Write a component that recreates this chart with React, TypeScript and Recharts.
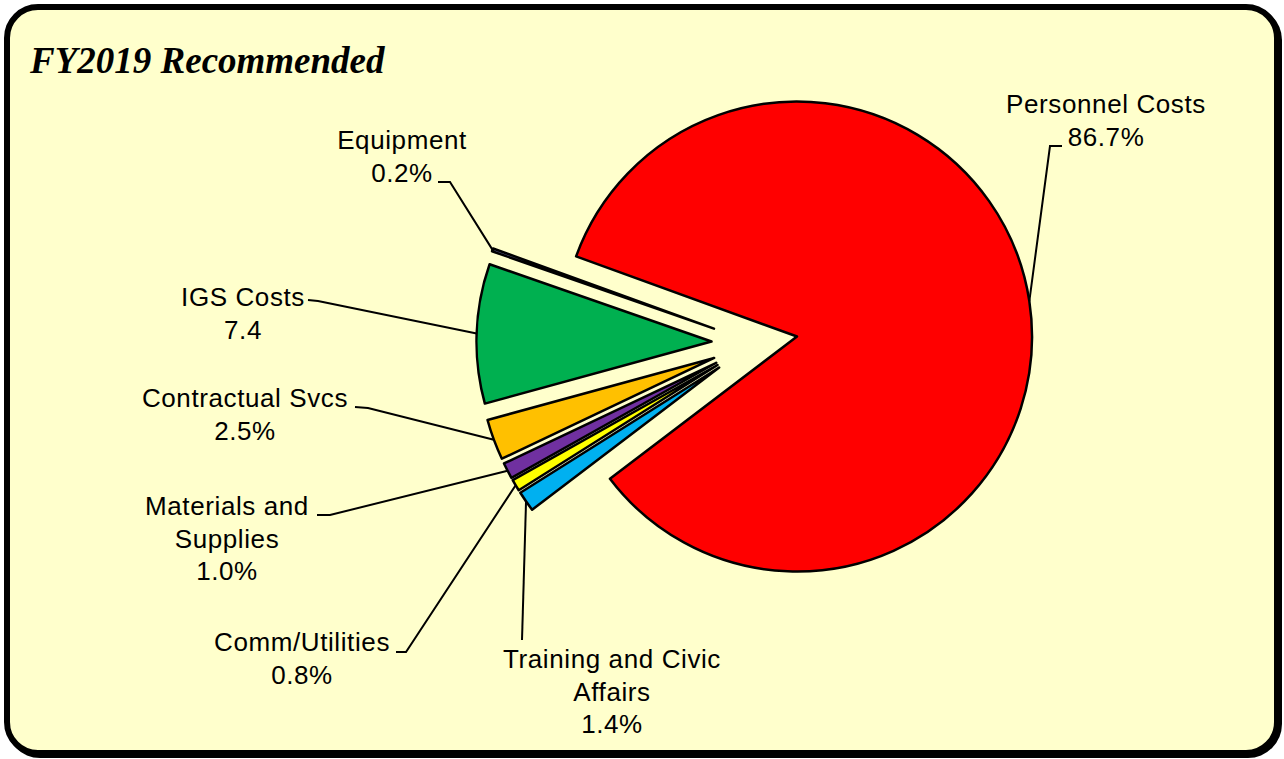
import React from 'react';
import { PieChart, Pie, Sector } from 'recharts';

// slice order follows the picture, counter-clockwise from the red slice
const categories = [
  'Personnel Costs',
  'Equipment',
  'IGS Costs',
  'Contractual Svcs',
  'Materials and\nSupplies',
  'Comm/Utilities',
  'Training and Civic\nAffairs',
];
// slice sizes as drawn
const values = [84.2, 0.2, 9.6, 2.8, 1.1, 0.8, 1.4];
// value text as printed on the labels
const valueLabels = ['86.7%', '0.2%', '7.4', '2.5%', '1.0%', '0.8%', '1.4%'];
const colors = ['#FF0000', '#9999FF', '#00B050', '#FFC000', '#7030A0', '#FFFF00', '#00B0F0'];

// label placement: text centre x, first baseline y, leader elbow and end
const labelLayout = [
  { x: 1106, y: 113, elbow: [1050, 146], end: [1062, 146] },
  { x: 402, y: 149, elbow: [450, 182], end: [438, 182] },
  { x: 243, y: 306, elbow: [318, 301], end: [308, 300] },
  { x: 245, y: 407, elbow: [368, 408], end: [355, 407] },
  { x: 227, y: 515, elbow: [330, 515], end: [317, 515] },
  { x: 302, y: 651, elbow: [406, 652], end: [396, 652] },
  { x: 612, y: 668, elbow: [522, 640], end: [522, 640] },
];

const data = categories.map((name, i) => ({ name, value: values[i] }));

const EXPLODE = 43;
const RAD = Math.PI / 180;
const LINE_H = 32.5;
const font = '"Liberation Sans", Arial, sans-serif';

const renderSlice = (props: any) => {
  const { cx, cy, outerRadius, startAngle, endAngle, index } = props;
  const mid = (startAngle + endAngle) / 2;
  const ox = cx + EXPLODE * Math.cos(mid * RAD);
  const oy = cy - EXPLODE * Math.sin(mid * RAD);
  const ax = ox + outerRadius * Math.cos(mid * RAD);
  const ay = oy - outerRadius * Math.sin(mid * RAD);
  const lay = labelLayout[index];
  const lines = [...categories[index].split('\n'), valueLabels[index]];
  return (
    <g>
      <Sector
        cx={ox}
        cy={oy}
        innerRadius={0}
        outerRadius={outerRadius}
        startAngle={startAngle}
        endAngle={endAngle}
        fill={colors[index]}
        stroke="#000"
        strokeWidth={2.5}
        strokeLinejoin="round"
      />
      <polyline
        points={`${ax},${ay} ${lay.elbow[0]},${lay.elbow[1]} ${lay.end[0]},${lay.end[1]}`}
        fill="none"
        stroke="#000"
        strokeWidth={2}
      />
      <text x={lay.x} y={lay.y} textAnchor="middle" fontFamily={font} fontSize={26} letterSpacing={0.6} fill="#000">
        {lines.map((t, k) => (
          <tspan key={k} x={lay.x} y={lay.y + k * LINE_H}>
            {t}
          </tspan>
        ))}
      </text>
    </g>
  );
};

export default function App() {
  return (
    <div style={{ position: 'absolute', left: 0, top: 0, width: 1284, height: 759 }}>
      <div
        style={{
          position: 'absolute',
          left: 4,
          top: 4,
          width: 1276,
          height: 752,
          boxSizing: 'border-box',
          border: '6px solid #000',
          borderRadius: 34,
          background: '#FFFFCC',
          boxShadow: '2px 2px 0 #000',
        }}
      />
      <svg style={{ position: 'absolute', left: 0, top: 0 }} width={1284} height={100}>
        <text x={30} y={73} fontFamily='"Liberation Serif", "Times New Roman", serif' fontSize={37} fontWeight="bold" fontStyle="italic" fill="#000">
          FY2019 Recommended
        </text>
      </svg>
      <div style={{ position: 'absolute', left: 0, top: 0 }}>
        <PieChart width={1284} height={759} margin={{ top: 0, right: 0, bottom: 0, left: 0 }}>
          <Pie
            data={data}
            dataKey="value"
            nameKey="name"
            cx={754.5}
            cy={343}
            innerRadius={0}
            outerRadius={235}
            startAngle={-142.75}
            endAngle={217.25}
            fill="none"
            stroke="none"
            label={renderSlice}
            labelLine={false}
            isAnimationActive={false}
          />
        </PieChart>
      </div>
    </div>
  );
}
